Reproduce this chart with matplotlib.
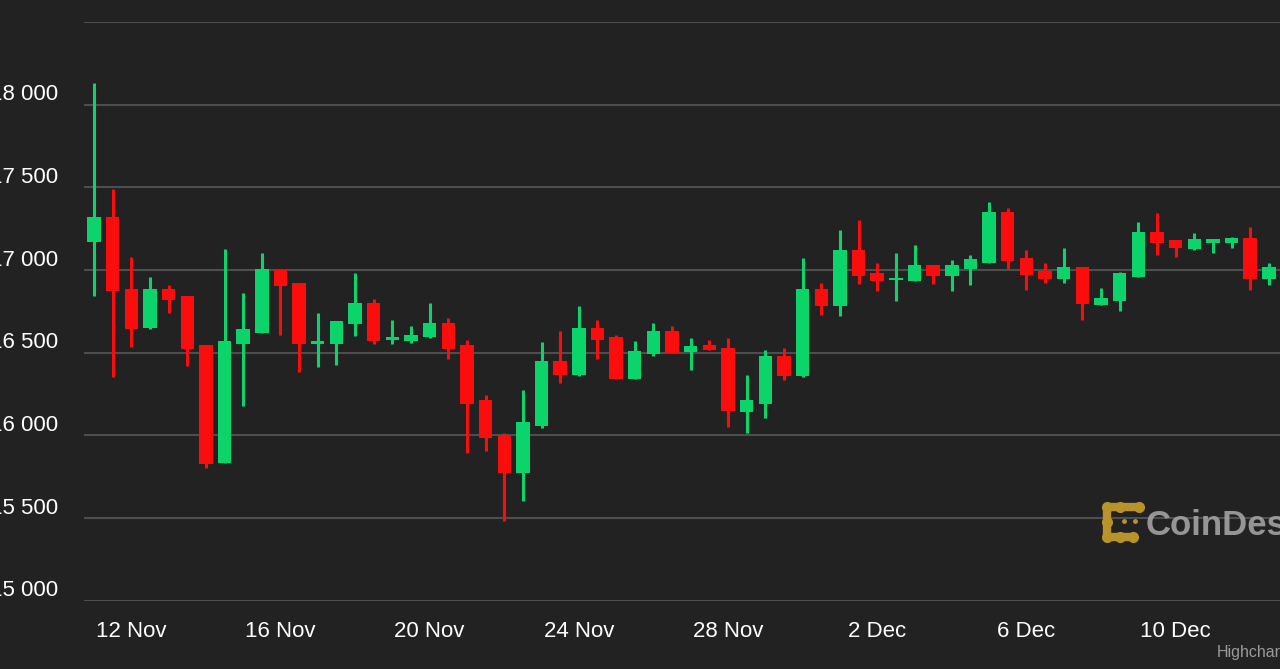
import matplotlib
matplotlib.use('Agg')
import matplotlib.pyplot as plt
import matplotlib.dates as mdates
import numpy as np
import pandas as pd

# 12-hour BTC candles, 11 Nov - 12 Dec 2022
times = pd.date_range('2022-11-11', periods=64, freq='12h')
opens = [17171, 17320, 16882, 16650, 16882, 16841, 16543, 15832, 16549, 16620,
         16997, 16918, 16553, 16549, 16670, 16801, 16575, 16569, 16593, 16680,
         16543, 16215, 16003, 15771, 16054, 16447, 16363, 16650, 16595, 16341,
         16494, 16629, 16502, 16543, 16529, 16141, 16191, 16482, 16357, 16882,
         16781, 17120, 16979, 16938, 16932, 17027, 16963, 17007, 17039, 17353,
         17070, 16993, 16943, 17019, 16787, 16811, 16959, 17232, 17181, 17128,
         17165, 17161, 17191, 16943]
highs = [18130, 17488, 17078, 16959, 16906, 16845, 16545, 17129, 16862, 17100,
         17003, 16920, 16741, 16690, 16983, 16826, 16700, 16660, 16801, 16710,
         16579, 16246, 16014, 16272, 16563, 16629, 16781, 16700, 16609, 16569,
         16680, 16660, 16589, 16575, 16589, 16367, 16518, 16529, 17070, 16918,
         17241, 17300, 17039, 17100, 17149, 17027, 17059, 17088, 17411, 17377,
         17120, 17039, 17130, 17019, 16892, 16985, 17292, 17342, 17184, 17221,
         17189, 17201, 17259, 17039]
lows = [16841, 16355, 16532, 16640, 16741, 16421, 15801, 15830, 16179, 16618,
        16609, 16381, 16413, 16427, 16599, 16549, 16549, 16555, 16590, 16462,
        15892, 15902, 15484, 15599, 16044, 16316, 16360, 16462, 16341, 16340,
        16478, 16498, 16393, 16514, 16050, 16013, 16104, 16332, 16355, 16730,
        16724, 16912, 16872, 16811, 16930, 16912, 16872, 16906, 17039, 17003,
        16878, 16922, 16922, 16700, 16785, 16750, 16959, 17088, 17080, 17120,
        17100, 17130, 16878, 16906]
closes = [17320, 16872, 16640, 16882, 16821, 16523, 15826, 16569, 16640, 17003,
          16902, 16549, 16569, 16690, 16801, 16569, 16595, 16609, 16680, 16523,
          16191, 15983, 15771, 16078, 16447, 16363, 16650, 16575, 16341, 16512,
          16629, 16498, 16538, 16514, 16144, 16211, 16482, 16361, 16882, 16781,
          17120, 16963, 16932, 16953, 17027, 16963, 17027, 17064, 17350, 17053,
          16969, 16947, 17019, 16791, 16832, 16979, 17232, 17161, 17130, 17185,
          17185, 17191, 16943, 17019]

tick_dates = ['2022-11-12', '2022-11-16', '2022-11-20', '2022-11-24',
              '2022-11-28', '2022-12-02', '2022-12-06', '2022-12-10']
tick_labels = ['12 Nov', '16 Nov', '20 Nov', '24 Nov',
               '28 Nov', '2 Dec', '6 Dec', '10 Dec']
y_ticks = [15000, 15500, 16000, 16500, 17000, 17500, 18000, 18500]

bg = '#222222'
green = '#0bd46b'
red = '#fc0d0d'
grid_col = '#4e4e4e'
font = 'Liberation Sans'

W, H = 1280, 669
fig = plt.figure(figsize=(W / 100, H / 100), dpi=100, facecolor=bg)
ax = fig.add_axes([84 / W, 68.5 / H, 1 - 84 / W, (600.5 - 22) / H])
ax.set_facecolor(bg)

x = mdates.date2num(times)
o = np.array(opens)
c = np.array(closes)
cols = np.where(c >= o, green, red)

ax.vlines(x, lows, highs, colors=cols, linewidth=2.2, zorder=2)
ax.bar(x, np.maximum(np.abs(c - o), 14), bottom=np.minimum(o, c), width=0.36,
       color=cols, linewidth=0, zorder=3)

ax.set_xlim(x[0] - 0.268, x[0] + 31.8)
ax.set_ylim(15000, 18500)

ax.set_yticks(y_ticks)
ax.grid(axis='y', color=grid_col, linewidth=1.5)
ax.set_axisbelow(True)
for s in ax.spines.values():
    s.set_visible(False)
ax.tick_params(left=False, labelleft=False, bottom=False)

ax.set_xticks(mdates.date2num(pd.to_datetime(tick_dates)))
ax.set_xticklabels(tick_labels, color='white', fontsize=16, fontname=font)
ax.tick_params(axis='x', pad=11)

# y labels sit just above their grid lines (left edge cropped, as in the source)
for v in y_ticks[:-1]:
    ax.annotate(f'{v:,}'.replace(',', ' '), xy=(0, v),
                xycoords=ax.get_yaxis_transform(),
                xytext=(-18.5, 3), textcoords='offset points',
                ha='right', va='baseline', color='white',
                fontsize=16, fontname=font, annotation_clip=False)

# CoinDesk watermark and credit, drawn in pixel coordinates
ov = fig.add_axes([0, 0, 1, 1], zorder=5)
ov.set_xlim(0, W)
ov.set_ylim(H, 0)
ov.axis('off')
ov.patch.set_alpha(0)
gold = '#b8932a'
ov.plot([1139, 1107, 1107, 1133], [507, 507, 537, 537], color=gold,
        linewidth=6, solid_capstyle='round', solid_joinstyle='round')
for px, py in [(1107, 507), (1107, 537), (1120, 507), (1120, 537), (1107, 522),
               (1139, 507), (1133, 537)]:
    ov.plot(px, py, 'o', color=gold, markersize=7)
for px, py in [(1124, 521), (1135, 521), (1135, 536)]:
    ov.plot(px, py, 'o', color=gold, markersize=2.5)
ov.text(1146, 535, 'CoinDesk', color='#a3a3a3', fontsize=25, fontweight='bold',
        fontname=font, va='baseline', ha='left', alpha=0.9)
ov.text(1217, 652, 'Highcharts.com', color='#9a9a9a', fontsize=11.5,
        fontname=font, va='center', ha='left')

fig.savefig('out.png', dpi=100, facecolor=bg)
